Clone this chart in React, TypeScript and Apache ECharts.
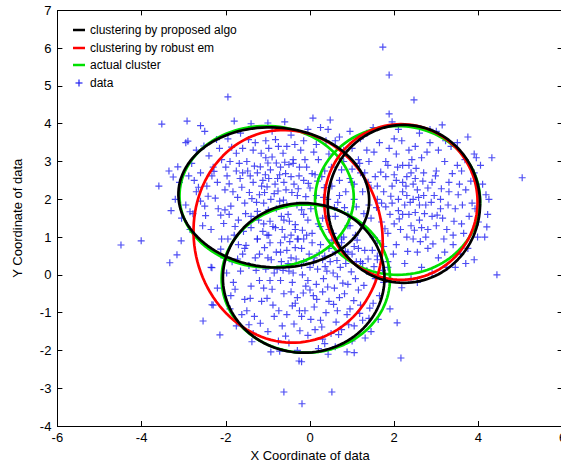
import React, { useEffect, useRef } from "react";
import * as echarts from "echarts";

// Ellipses: [centerX, centerY, radiusX, radiusY, rotationDeg]
const proposedEllipses: number[][] = [
  [-0.86, 2.05, 2.27, 1.85, -6],
  [-0.15, -0.08, 1.92, 1.98, 0],
  [2.23, 1.88, 1.81, 2.09, 0],
];
const robustEmEllipses: number[][] = [
  [-0.52, 1.02, 2.24, 2.82, 6],
  [2.16, 1.93, 1.82, 2.06, 0],
];
const actualEllipses: number[][] = [
  [-1.03, 2.07, 2.07, 1.87, -3],
  [-0.1, -0.1, 2.0, 1.96, 0],
  [2.08, 1.97, 1.96, 1.97, 0],
];

const clusterA: number[][] = [
  [-2.81,2.95],[-2.52,3.41],[-2.33,2.62],[-2.1,3.05],[-1.92,2.41],[-1.75,3.22],[-1.6,2.7],[-1.44,2.18],
  [-1.3,3.5],[-1.18,2.86],[-1.02,2.33],[-0.9,3.12],[-0.77,2.55],[-0.63,1.98],[-0.5,2.92],[-0.38,2.4],
  [-0.22,3.3],[-0.1,2.07],[0.05,2.68],[0.2,3.05],[0.34,2.31],[0.51,2.85],[0.66,1.92],[-2.95,1.85],
  [-2.7,2.2],[-2.48,1.57],[-2.25,2.03],[-2.05,1.36],[-1.88,1.82],[-1.7,1.45],[-1.55,1.9],[-1.4,1.25],
  [-1.25,1.68],[-1.1,1.9],[-0.95,1.42],[-0.8,1.75],[-0.66,1.2],[-0.52,1.6],[-0.35,1.33],[-0.2,1.72],
  [-0.05,1.45],[0.12,1.85],[0.3,1.5],[0.45,1.2],[-2.6,2.7],[-2.4,3.15],[-2.2,2.45],[-2.0,2.85],
  [-1.83,2.2],[-1.66,2.55],[-1.5,3.0],[-1.35,2.45],[-1.2,2.12],[-1.06,2.65],[-0.93,2.0],[-0.83,2.4],
  [-0.7,2.85],[-0.57,2.25],[-0.45,2.6],[-0.3,2.1],[-0.15,2.5],[0.0,2.3],[0.15,2.1],[0.28,2.6],
  [0.42,2.0],[-1.95,3.6],[-1.65,3.75],[-1.35,3.3],[-1.05,3.55],[-0.75,3.4],[-0.45,3.7],[-0.15,3.55],
  [0.15,3.45],[0.45,3.2],[-2.15,3.35],[-0.9,3.8],[-2.35,1.2],[-2.1,0.95],[-1.8,1.05],[-1.55,0.7],
  [-1.25,0.95],[-0.95,0.85],[-0.7,0.6],[-3.1,2.45],[-3.05,1.5],[-2.85,1.2],[-2.7,3.3],[-3.2,2.0],
  [0.7,2.5],[0.85,2.2],[0.9,1.6],[0.8,3.0],[1.05,2.0],[1.2,2.7],[-1.48,2.75],[-1.15,2.35],
  [-0.85,2.15],[-0.62,2.45],[-1.72,2.05],[-2.18,1.75],[-1.97,2.62],[-1.27,1.92],[-0.72,1.95],[-0.25,2.85],
  [-0.4,3.05],[-1.6,3.35],[-1.05,3.1],[0.35,2.75],[-2.45,2.35],[-2.6,1.95],[-1.4,1.55],[-0.55,1.85],
  [-1.0,2.96],[-0.8,2.96],[-0.6,2.98],[-0.4,2.95],[-1.9,3.0],[-2.3,2.85],[-1.25,2.7],[-0.98,2.55],
  [-2.55,1.3],[-1.92,1.6],[-1.12,1.15],[-0.3,0.95],[0.05,1.1],[0.6,1.55],[-2.75,2.5],[-3.3,1.7],
  [-0.05,3.85],[0.6,3.55],[1.0,3.35],[-1.4,4.0],[-2.5,3.8],[-0.6,4.05],[0.25,3.9],[-1.75,2.75],
  [-2.42,2.08],[-2.28,2.74],[-2.12,1.58],[-2.02,2.25],[-1.86,3.38],[-1.78,1.28],[-1.62,2.32],[-1.53,1.62],
  [-1.46,3.58],[-1.38,2.02],[-1.32,2.88],[-1.22,1.45],[-1.16,3.22],[-1.08,2.18],[-0.99,1.72],[-0.94,2.78],
  [-0.88,1.28],[-0.82,3.58],[-0.76,2.22],[-0.68,1.55],[-0.64,3.22],[-0.58,2.68],[-0.49,1.42],[-0.43,2.18],
  [-0.36,3.45],[-0.31,1.85],[-0.26,2.62],[-0.18,1.18],[-0.12,3.05],[-0.04,2.42],[0.02,1.75],[0.09,3.25],
  [0.18,2.48],[0.24,1.28],[0.38,3.55],[0.52,2.35],[0.58,1.78],[0.75,2.78],[0.98,2.45],[-2.65,2.32],
  [-2.88,2.62],[-2.5,1.82],[-2.22,3.58],[-2.02,1.72],[-1.68,2.95],[-1.42,2.62],[-1.12,2.5],[-0.98,3.35],
  [-0.72,2.65],[-0.55,3.4],[-0.28,2.28],[-0.08,2.85],[0.12,2.65],[0.32,2.05],[-1.58,1.15],[-1.02,1.05],
  [-0.45,1.05],[-2.78,1.62],[-3.35,2.75],[-2.95,3.5]
];

const clusterB: number[][] = [
  [-2.05,0.45],[-1.82,-0.2],[-1.7,0.8],[-1.55,-0.65],[-1.45,0.25],[-1.32,-1.1],[-1.2,0.55],[-1.1,-0.35],
  [-0.98,1.05],[-0.88,-0.8],[-0.78,0.15],[-0.66,-1.35],[-0.55,0.65],[-0.45,-0.45],[-0.35,1.2],[-0.25,-0.95],
  [-0.15,0.35],[-0.05,-1.6],[0.05,0.85],[0.15,-0.25],[0.25,-1.2],[0.35,0.5],[0.45,-0.7],[0.55,1.1],
  [0.65,-0.05],[0.75,-1.45],[0.85,0.3],[0.95,-0.9],[1.05,0.75],[1.15,-0.4],[1.25,-1.2],[1.35,0.1],
  [1.5,-0.75],[1.6,0.5],[1.75,-0.2],[-1.9,-0.9],[-1.65,0.1],[-1.4,-0.3],[-1.25,0.95],[-1.0,-1.5],
  [-0.92,0.4],[-0.7,-0.15],[-0.6,1.0],[-0.5,-1.8],[-0.4,0.05],[-0.3,-0.6],[-0.2,0.7],[-0.1,-0.3],
  [0.0,0.2],[0.1,-0.85],[0.2,1.35],[0.3,-0.45],[0.4,0.1],[0.5,-1.55],[0.6,0.6],[0.7,-0.6],
  [0.8,1.0],[0.9,-0.25],[1.0,-1.75],[1.1,0.35],[1.2,-0.8],[1.3,0.65],[1.45,-1.5],[1.55,-0.1],
  [-1.75,-1.35],[-1.5,-0.95],[-1.15,-0.7],[-0.85,-1.1],[-0.62,-0.5],[-0.38,-1.3],[-0.12,-0.95],[0.12,-1.45],
  [0.38,-1.0],[0.62,-1.25],[0.88,-1.05],[-1.05,0.15],[-0.8,0.6],[-0.52,0.3],[-0.28,0.95],[-0.02,0.55],
  [0.25,0.8],[0.48,0.35],[0.72,0.2],[-0.95,-0.15],[-0.68,0.35],[-0.42,-0.2],[-0.18,0.0],[0.08,-0.55],
  [0.32,-0.1],[0.58,-0.35],[0.82,-0.5],[1.08,-0.1],[-1.3,0.45],[-1.6,0.55],[-2.2,-0.35],[-2.35,0.2],
  [-1.95,0.95],[-0.3,-2.0],[0.2,-1.95],[0.6,-1.9],[-0.75,-1.75],[1.4,-1.15],[1.65,-0.55],[1.85,0.35],
  [1.9,-0.9],[-1.35,-1.55],[-0.15,1.6],[0.42,1.55],[-0.62,1.45],[0.95,1.3],[-1.1,1.35],[-1.85,0.35],
  [-0.45,0.45],[-0.05,-0.15],[0.18,0.15],[-0.35,-0.75],[0.65,-0.95],[-0.85,0.05],[1.25,0.3],[-0.2,0.25],
  [0.45,0.7],[-0.7,0.85],[0.1,0.45],[-0.55,-1.05],[0.3,-1.7],[1.05,-1.35],[-1.2,-0.15],[1.6,0.9],
  [-2.3,-0.8],[-2.14,-1.59],[-2.54,-1.22],[-2.33,-0.79],[-1.38,-1.77],[-0.93,-2.04],[0.88,-2.04],[1.05,-2.06],
  [1.31,-1.67],[-0.26,-2.28],[0.43,-2.1],[-0.2,-2.3],
  [-1.98,0.05],[-1.88,-0.55],[-1.72,0.42],[-1.62,-1.05],[-1.52,0.78],[-1.42,-0.62],[-1.28,0.12],[-1.18,-1.28],
  [-1.08,0.72],[-1.02,-0.62],[-0.9,-0.38],[-0.82,1.25],[-0.74,-0.95],[-0.64,0.12],[-0.58,-1.62],[-0.48,0.88],
  [-0.42,-0.82],[-0.33,0.42],[-0.24,-1.48],[-0.16,-0.48],[-0.08,1.05],[0.02,-1.18],[0.08,0.32],[0.16,-0.65],
  [0.22,0.58],[0.28,-1.38],[0.36,0.22],[0.42,-0.32],[0.52,0.92],[0.56,-0.78],[0.64,0.38],[0.68,-1.58],
  [0.78,-0.22],[0.84,0.62],[0.92,-1.32],[0.98,0.08],[1.04,-0.68],[1.12,0.92],[1.18,-1.02],[1.28,-0.28],
  [1.38,0.42],[1.42,-0.88],[1.52,0.22],[1.62,-1.18],[1.72,0.12],[-0.72,-2.02],[0.35,-1.82],[-1.45,-1.32],
  [-1.78,-0.38],[-2.12,0.68],[-0.35,0.72],[0.0,-0.4],[-0.5,0.1],[0.3,0.4],[-0.2,-1.1],[0.75,0.85],
  [-1.0,0.45],[-0.15,0.95],[0.55,0.05],[1.0,0.55]
];

const clusterC: number[][] = [
  [0.7,2.1],[0.9,1.3],[1.0,2.8],[1.15,0.7],[1.25,2.2],[1.35,3.3],[1.45,1.5],[1.55,2.6],
  [1.6,0.4],[1.7,1.9],[1.8,3.0],[1.85,1.1],[1.95,2.35],[2.0,3.6],[2.05,0.8],[2.1,1.7],
  [2.2,2.9],[2.25,0.3],[2.3,2.1],[2.35,3.3],[2.4,1.3],[2.5,2.55],[2.55,0.6],[2.6,1.85],
  [2.65,3.1],[2.75,1.0],[2.8,2.3],[2.85,3.5],[2.9,1.55],[3.0,2.75],[3.05,0.45],[3.1,2.0],
  [3.2,3.0],[3.25,1.2],[3.3,2.45],[3.4,0.8],[3.45,1.75],[3.5,2.9],[3.6,1.35],[3.7,2.25],
  [3.75,0.7],[3.85,1.9],[3.9,2.7],[4.0,1.4],[1.1,1.8],[1.3,2.7],[1.5,1.0],[1.65,3.5],
  [1.75,2.2],[1.9,1.6],[2.0,2.65],[2.15,1.2],[2.2,2.45],[2.3,1.0],[2.45,2.0],[2.5,3.4],
  [2.6,1.45],[2.7,2.7],[2.8,0.7],[2.95,2.1],[3.05,3.3],[3.15,1.5],[3.3,2.2],[3.35,3.4],
  [3.55,2.4],[3.65,1.1],[1.2,3.6],[1.4,3.0],[1.6,2.0],[1.8,2.6],[2.1,2.0],[2.35,1.6],
  [2.55,2.25],[2.75,1.85],[2.9,2.45],[3.1,1.75],[2.0,1.35],[2.25,1.85],[1.95,1.9],[2.4,2.7],
  [2.6,3.75],[2.1,3.85],[1.5,3.9],[3.0,3.8],[3.5,3.5],[3.9,3.2],[4.1,2.4],[4.15,1.0],
  [3.9,0.4],[3.45,0.2],[2.9,0.05],[2.4,-0.1],[1.85,0.2],[1.35,0.1],[4.25,2.0],[0.8,3.3],
  [0.95,3.8],[1.05,2.4],[1.45,2.3],[2.65,0.2],[3.2,0.6],[3.7,0.3],[0.9,0.6],[1.25,1.3],
  [2.8,1.2],[3.4,1.05],[1.7,1.4],[2.2,2.2],[2.5,1.65],[1.85,2.9],[2.05,3.2],[1.6,2.35],
  [2.3,2.6],[1.4,1.85],[2.7,2.1],[3.0,1.3],[1.75,0.75],[2.45,0.95],[3.6,2.75],[1.15,3.05],
  [0.82,1.78],[0.95,2.55],[1.08,1.05],[1.18,2.95],[1.28,1.62],[1.38,2.45],[1.48,0.65],[1.52,3.25],
  [1.58,1.78],[1.68,2.72],[1.78,1.22],[1.88,3.35],[1.92,2.08],[1.98,0.55],[2.08,2.85],[2.12,1.48],
  [2.18,3.55],[2.28,2.35],[2.32,0.62],[2.38,1.92],[2.42,3.05],[2.48,1.18],[2.52,2.82],[2.58,2.05],
  [2.62,0.88],[2.68,2.48],[2.72,1.62],[2.78,3.25],[2.88,1.92],[2.92,0.82],[2.98,2.62],[3.02,1.58],
  [3.12,2.28],[3.18,0.95],[3.22,3.55],[3.28,1.85],[3.38,2.68],[3.42,1.42],[3.52,2.12],[3.58,0.55],
  [3.62,1.85],[3.68,3.05],[3.78,1.55],[3.82,2.48],[3.92,1.75],[1.35,3.75],[1.95,4.05],[2.85,3.85],
  [4.05,2.9],[4.22,1.6],[0.75,0.95],[1.2,0.35],[2.55,-0.2],[3.25,0.2],[2.2,1.6],[2.05,2.5],
  [2.45,2.4],[1.8,1.8],[2.65,1.25],[2.35,2.9]
];

const outliers: number[][] = [
  [-4.49,0.79],[-4.01,0.9],[-3.52,3.99],[-3.59,2.35],[-2.92,4.07],[-1.95,4.71],[1.73,6.03],[1.88,5.29],
  [2.47,4.63],[5.04,2.57],[4.44,0.0],[2.16,-2.2],[-0.62,-3.1],[-0.19,-3.41],[0.52,-3.1],[-3.33,0.32],
  [-3.16,0.53],[-2.33,0.19],[-3.06,0.9],[-2.85,1.67],[-3.14,2.86],[-3.25,2.59],[-2.9,3.54],[-1.8,4.07],
  [1.88,4.26],[3.14,3.97],[3.75,3.65],[4.32,3.1],[3.95,3.1],[4.18,2.12],[4.2,1.27],[3.98,1.0],
  [2.07,-1.27],[2.18,-0.34],[0.07,4.15],[0.48,4.1],[0.43,3.85],[0.7,3.65],[-1.0,4.02],[-2.6,3.95]
];

const legendNames = ["clustering by proposed algo", "clustering by robust em", "actual cluster", "data"];
const lineColors = ["#000000", "#ff0000", "#00e000"];
const dataColor = "#1f1ff0";

function ellipsePoints(p: number[]): number[][] {
  const [cx, cy, rx, ry, deg] = p;
  const th = (deg * Math.PI) / 180;
  const pts: number[][] = [];
  for (let i = 0; i <= 120; i++) {
    const t = (i / 120) * Math.PI * 2;
    const ex = rx * Math.cos(t);
    const ey = ry * Math.sin(t);
    pts.push([cx + ex * Math.cos(th) - ey * Math.sin(th), cy + ex * Math.sin(th) + ey * Math.cos(th)]);
  }
  return pts;
}

export default function App() {
  const ref = useRef<HTMLDivElement>(null);
  useEffect(() => {
    if (!ref.current) return;
    const chart = echarts.init(ref.current, undefined, { renderer: "svg" });
    const font = "Liberation Sans";
    const ellipseSeries: any[] = [];
    const groups = [
      { list: actualEllipses, name: legendNames[2], color: lineColors[2] },
      { list: robustEmEllipses, name: legendNames[1], color: lineColors[1] },
      { list: proposedEllipses, name: legendNames[0], color: lineColors[0] },
    ];
    groups.forEach((g) => {
      g.list.forEach((p) => {
        ellipseSeries.push({
          type: "line",
          name: g.name,
          data: ellipsePoints(p),
          showSymbol: false,
          symbol: "none",
          lineStyle: { color: g.color, width: 2.7 },
          z: 3,
          silent: true,
        });
      });
    });
    const legendY = [30, 48, 65, 83];
    const graphic: any[] = [];
    legendNames.forEach((n, i) => {
      if (i < 3) {
        graphic.push({
          type: "line",
          shape: { x1: 73, y1: legendY[i], x2: 85, y2: legendY[i] },
          style: { stroke: lineColors[i], lineWidth: 2.5 },
        });
      } else {
        graphic.push({
          type: "line",
          shape: { x1: 75.5, y1: legendY[i], x2: 82.5, y2: legendY[i] },
          style: { stroke: dataColor, lineWidth: 1.2 },
        });
        graphic.push({
          type: "line",
          shape: { x1: 79, y1: legendY[i] - 3.5, x2: 79, y2: legendY[i] + 3.5 },
          style: { stroke: dataColor, lineWidth: 1.2 },
        });
      }
      graphic.push({
        type: "text",
        x: 90,
        y: legendY[i],
        style: { text: n, fill: "#000", font: `12px ${font}`, textVerticalAlign: "middle" },
      });
    });

    const tickStyle = { inside: true, length: 5, lineStyle: { color: "#000", width: 1 } };
    const axisLineStyle = { show: true, onZero: false, lineStyle: { color: "#000", width: 1 } };
    const labelStyle = { color: "#000", fontSize: 13, fontFamily: font };

    chart.setOption({
      animation: false,
      backgroundColor: "#fff",
      grid: { left: 57.4, top: 10.4, width: 505.2, height: 415.6, outerBoundsMode: "none", containLabel: false },
      xAxis: [
        {
          type: "value", min: -6, max: 6, interval: 2, position: "bottom",
          axisLine: axisLineStyle, axisTick: tickStyle, splitLine: { show: false },
          axisLabel: { ...labelStyle, margin: 5 },
          name: "X Coordinate of data", nameLocation: "middle", nameGap: 23,
          nameTextStyle: { color: "#000", fontSize: 13, fontFamily: font },
        },
        {
          type: "value", min: -6, max: 6, interval: 2, position: "top",
          axisLine: axisLineStyle, axisTick: tickStyle, splitLine: { show: false },
          axisLabel: { show: false },
        },
      ],
      yAxis: [
        {
          type: "value", min: -4, max: 7, interval: 1, position: "left",
          axisLine: axisLineStyle, axisTick: tickStyle, splitLine: { show: false },
          axisLabel: { ...labelStyle, margin: 6 },
          name: "Y Coordinate of data", nameLocation: "middle", nameGap: 33,
          nameTextStyle: { color: "#000", fontSize: 13, fontFamily: font },
        },
        {
          type: "value", min: -4, max: 7, interval: 1, position: "right",
          axisLine: axisLineStyle, axisTick: tickStyle, splitLine: { show: false },
          axisLabel: { show: false },
        },
      ],
      series: [
        {
          type: "scatter",
          name: legendNames[3],
          data: [...clusterA, ...clusterB, ...clusterC, ...outliers],
          symbol: "path://M3,0h1.2v7.2h-1.2z M0,3h7.2v1.2h-7.2z",
          symbolSize: 7,
          itemStyle: { color: dataColor },
          z: 2,
          silent: true,
        },
        ...ellipseSeries,
      ],
      graphic,
    });
    return () => chart.dispose();
  }, []);
  return (
    <div
      ref={ref}
      style={{ position: "absolute", left: 0, top: 0, width: 561, height: 465 }}
    />
  );
}
